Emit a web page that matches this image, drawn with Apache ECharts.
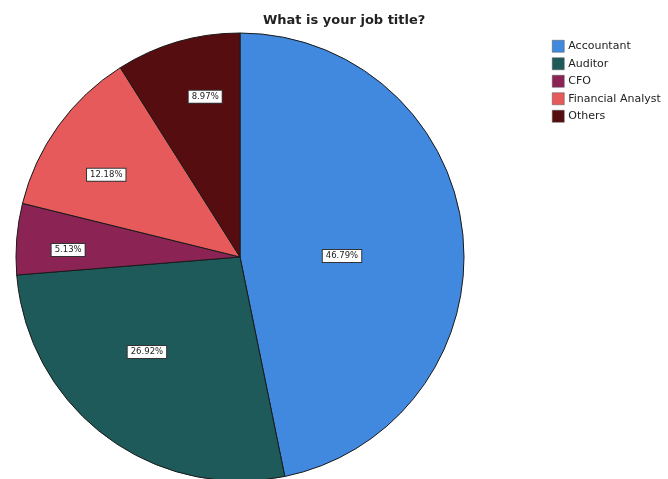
<!DOCTYPE html>
<html>
<head>
<meta charset="utf-8">
<script src="https://cdn.jsdelivr.net/npm/echarts@6/dist/echarts.min.js"></script>
<style>html,body{margin:0;padding:0;background:#fff;}#c{width:668px;height:479px;}</style>
</head>
<body>
<div id="c"></div>
<script>
var titleText = 'What is your job title?';
var categories = ['Accountant', 'Auditor', 'CFO', 'Financial Analyst', 'Others'];
var percents = [46.79, 26.92, 5.13, 12.18, 8.97];
var colors = ['#4189de', '#1f5a5b', '#8c2355', '#e65a5b', '#560d0f'];

var center = [240, 257];
var radius = 224;
// label placement: distance from centre (px) and angular shift (deg, clockwise) from the slice mid-angle
var labelDist = [102, 133, 172, 157, 164];
var labelShift = [5.2, 7.5, -2.3, -4.2, 3.9];

var chart = echarts.init(document.getElementById('c'), null, {renderer: 'canvas'});
var data = categories.map(function (c, i) {
  return { name: c, value: percents[i], itemStyle: { color: colors[i] } };
});

chart.setOption({
  animation: false,
  backgroundColor: '#fff',
  title: {
    text: titleText,
    left: 258,
    top: 9,
    textStyle: { fontFamily: 'DejaVu Sans', fontWeight: 'bold', fontSize: 13, color: '#222' }
  },
  legend: {
    orient: 'vertical',
    left: 547,
    top: 35,
    itemWidth: 12,
    itemHeight: 12,
    itemGap: 5,
    icon: 'rect',
    data: categories,
    itemStyle: { borderColor: '#555', borderWidth: 0.5 },
    textStyle: { fontFamily: 'DejaVu Sans', fontSize: 11, color: '#222', padding: [0,0,0,-1] }
  },
  series: [{
    type: 'pie',
    center: center,
    radius: radius,
    startAngle: 90,
    clockwise: true,
    data: data,
    itemStyle: { borderColor: '#1a1a1a', borderWidth: 1 },
    emphasis: { disabled: true },
    label: {
      show: true,
      position: 'inside',
      formatter: function (p) { return p.value.toFixed(2) + '%'; },
      fontFamily: 'DejaVu Sans',
      fontSize: 8.5,
      color: '#222',
      backgroundColor: '#fff',
      borderColor: '#333',
      borderWidth: 1,
      padding: [2, 3, 1, 3]
    },
    labelLine: { show: false },
    labelLayout: function (params) {
      var r = params.labelRect;
      var lx = r.x + r.width / 2, ly = r.y + r.height / 2;
      var vx = lx - center[0], vy = ly - center[1];
      var ang = Math.atan2(vx, -vy) + labelShift[params.dataIndex] * Math.PI / 180;
      var d = labelDist[params.dataIndex];
      var tx = center[0] + d * Math.sin(ang), ty = center[1] - d * Math.cos(ang);
      return { dx: tx - lx, dy: ty - ly };
    }
  }]
});
</script>
</body>
</html>
